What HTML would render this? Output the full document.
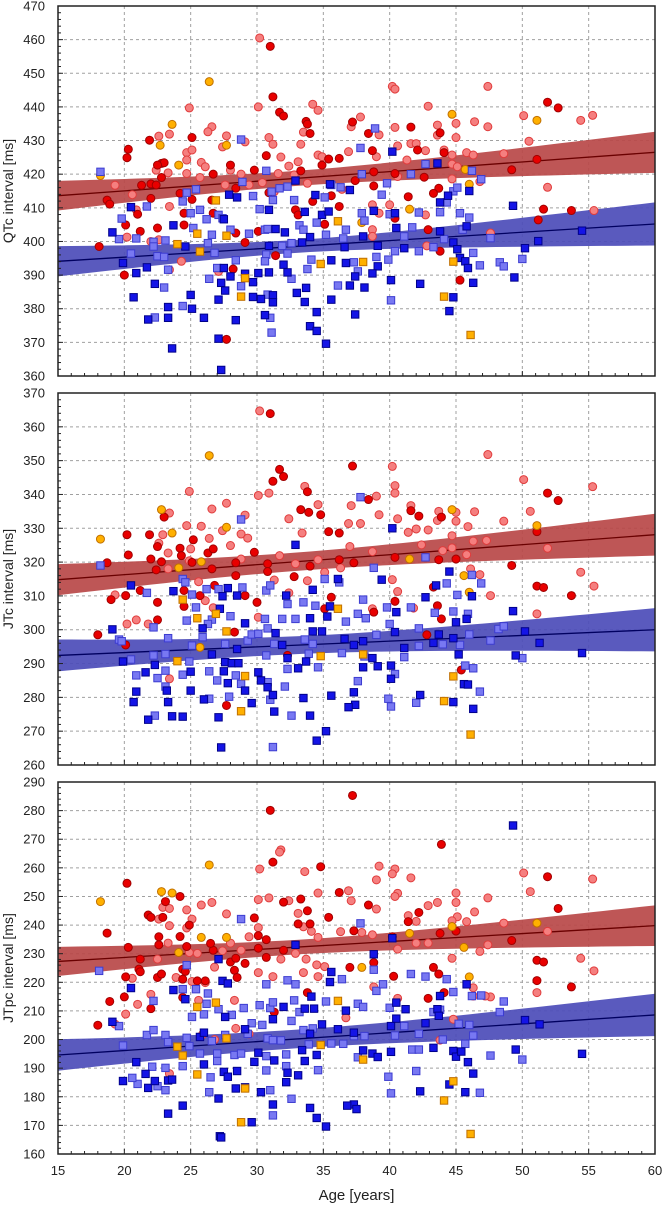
<!DOCTYPE html>
<html><head><meta charset="utf-8"><style>
html,body{margin:0;padding:0;background:#fff;}
svg{display:block;font-family:"Liberation Sans",sans-serif;}
</style></head><body>
<svg id="chart" width="663" height="1207" viewBox="0 0 663 1207" xmlns="http://www.w3.org/2000/svg"></svg>
<script>
// ---------- shared axis data ----------
const xTicks = [15,20,25,30,35,40,45,50,55,60];
const xTitle = "Age [years]";
const panelTitles = ["QTc interval [ms]","JTc interval [ms]","JTpc interval [ms]"];
const panelYMin = [360,260,160];
const panelYMax = [470,370,290];
// regression lines: [y at age 15, y at age 60]
const redFit = [[413.6,426.5],[314.8,328.1],[227.3,239.8]];
const blueFit = [[394.1,405.2],[292.4,300.0],[194.6,208.6]];
// confidence band half-widths: [at age 15, at age 60]
const redBand = [[4.4,6.1],[4.6,6.2],[5.1,7.1]];
const blueBand = [[4.5,6.4],[4.7,6.4],[5.5,7.4]];

// ---------- Panel 1 (QTc) ----------
const qtcPink = [[30.2,460.5],[24.9,439.7],[26.6,434.1],[26.3,432.6],[22.6,431.3],[23.4,431.9],[27.7,431.4],[29.1,429.6],[27.4,428.1],[30.9,430.9],[31.2,428.9],[30.1,440],[34.2,440.8],[34.6,439],[33.5,432.5],[33.3,428.9],[34.6,425.7],[31.8,425.1],[32.4,422.4],[33.1,423.7],[31.6,420.2],[37.8,437],[37.1,434.1],[36.9,426.7],[39,425.2],[39.2,431.7],[40.2,446.1],[40.4,445.3],[40.4,433.9],[40.6,428.4],[41.6,429.1],[42,429.1],[42.9,440.2],[42.7,427],[41.3,424.2],[43.6,434.6],[43.6,431.6],[44.1,427.2],[45,430.9],[45,435.1],[45.8,426.4],[46.3,425.7],[46.4,435.6],[47.4,434.1],[47.4,446.1],[44.7,423],[44.7,418.6],[48.6,426.1],[50.1,437.4],[50.5,429.8],[51.9,416.1],[54.4,436],[55.3,437.5],[55.4,409.2],[19.3,416.7],[20.6,413.9],[20.2,401.3],[20.9,409.4],[22.4,421.2],[23.3,420.4],[22,400],[22.6,400.5],[23.4,410.4],[24.7,426.4],[25.1,427.2],[24.7,424.2],[25.8,423.5],[26.1,422.2],[24.7,420.2],[25.7,419],[27.6,416.8],[28,421.2],[28.8,420],[29.4,416.8],[30.4,417.5],[31.3,414.8],[32.8,419.8],[33.8,417.3],[34.9,425.2],[36.4,415.5],[38.7,410.9],[39.2,408.4],[40,410.9],[40.6,419.3],[42.7,407.9],[44.7,425.7],[45.1,422.2],[46.8,417.8],[47.6,402.5],[38.7,403.5],[38.7,401.5],[24.3,394.1],[23.4,391.6],[27.1,391.1],[42.8,398.7]];
const qtcRed = [[31,458],[31.2,443],[31.7,438.4],[32,437.3],[33.7,435.7],[33.8,434.9],[34,432.1],[21.9,430.1],[20.3,427.4],[20.2,424.9],[25.1,430.9],[22.8,423.2],[23,423.4],[22.5,422.7],[22.8,419],[26.7,420],[28,422.7],[29.8,421.2],[30.7,425.5],[33.3,421],[34.9,422.7],[35.4,424.5],[36.2,424.7],[37.2,435.5],[38.4,432.1],[38.7,427],[38.8,420.7],[40.4,420.2],[41.6,434],[42.1,427.2],[42.6,419.1],[43.8,432.3],[44.1,426.4],[43.7,415.8],[43.3,414.3],[51.1,424.4],[51.9,441.4],[52.7,439.7],[49.2,421.3],[51.6,409.6],[53.7,409.2],[51.2,406.4],[18.1,398.5],[18.7,412.3],[18.9,411.1],[20.1,404.9],[20,390],[21,408.1],[21.2,403],[21.3,416.7],[22,417.1],[22.4,416.8],[22,412.8],[22.5,404],[24.2,414.3],[24.5,408.4],[24.5,404.9],[25.1,412.5],[26.6,412.3],[26.7,408.4],[28.4,415.8],[28.4,402.5],[29.1,399.7],[30.1,403],[30.9,414.5],[32.9,409.4],[33.1,407.9],[34.2,411.9],[35.1,405.1],[35.6,413.6],[36.2,410.4],[37.4,418.1],[38.8,416.5],[40.4,406.9],[41.4,413.3],[42.9,403.5],[43.8,397.1],[45.3,388.5],[27.7,370.9],[28.2,391.8],[31.4,395.8]];
const qtcOrangeCircle = [[26.4,447.5],[23.6,434.8],[22.7,428.6],[24.1,422.7],[27.7,428.6],[44.7,437.8],[51.1,436],[46,417],[45.7,421.4],[41.5,409.6],[18.2,419.6],[37.9,405.6]];
const qtcOrangeSquare = [[26.9,412.2],[24,399.2],[25.7,397],[25.5,402.3],[27.7,401.7],[36.1,406],[34.8,393.3],[38,393.9],[44.8,394],[44.1,383.6],[46.1,372.2],[28.8,383.6],[29.1,389.1]];
const qtcLightBlue = [[18.2,420.7],[19.8,406.8],[19.6,400.7],[20.9,400.9],[20.5,396.4],[21.7,410.4],[22.2,399.9],[22.2,398.5],[22.5,395.6],[23,395.4],[23.3,391.6],[23,386.3],[23.1,400.3],[22.3,377.4],[24.4,380.8],[24.4,411.9],[24.7,414.5],[25.4,415.5],[25,408.4],[25.7,409.4],[26.2,406.6],[25.2,404],[26.3,399.5],[26.6,402],[26.8,396.6],[26.4,388.9],[27.1,407.9],[27.4,406.9],[28,403.5],[27,392.1],[28.4,394.4],[28.8,430.3],[28.9,417.7],[29.4,402.3],[28.8,386.7],[29.7,413.5],[30.7,421],[30.2,409.6],[30.6,403.5],[30.8,403.7],[30.7,396.1],[30.6,394.1],[31.1,414.8],[31.2,412.3],[31.7,415.8],[32.3,416.3],[31.9,398.7],[32.3,396.4],[32.6,399.5],[32.6,388.9],[32.8,412.3],[33.2,404.8],[33.5,403.5],[33.8,391.8],[34.1,394.6],[35.1,413.1],[34.5,405.6],[35.2,402],[35.6,416.8],[36.3,416.1],[36.7,403.5],[36.5,400.9],[36.1,386.9],[37.3,393.8],[37.6,391.1],[37.9,408.4],[38.1,406.2],[37.9,420],[37.8,427.8],[38.9,433.6],[39,395.4],[39.9,394.6],[39.8,417.3],[39.4,413.9],[40,408.1],[40.1,382.5],[40.4,397.1],[41.1,401.5],[41.6,420],[41.7,404.2],[42.2,408.6],[42.2,397.1],[42.7,423],[43.3,398.3],[43.8,408.7],[44.1,400.7],[44.3,411.6],[44.8,414.9],[45.1,416],[45.3,408.4],[45.5,403.5],[46,407.1],[46.3,396.6],[46.8,392.9],[46.2,421],[46.9,418.5],[47.6,401],[48.3,393.8],[48.6,392.6],[50,394.8],[30.8,384.2],[31,377.3],[31.1,372.9]];
const qtcDarkBlue = [[20.5,410.2],[19.1,402.7],[19.9,393.6],[20.9,390.6],[20.7,383.4],[21.7,392.3],[22.3,387.4],[21.8,376.8],[23.3,380.5],[23.3,377.3],[23.6,368.2],[23.7,404.8],[25,384.1],[25.1,380],[26,377.3],[24.6,398.5],[27.1,371.1],[27.3,361.8],[27.1,382.7],[27.3,387.7],[27.6,385.4],[27.5,392.1],[27.5,406.6],[27.9,413.9],[28.5,413.1],[28.4,376.6],[28,389.6],[29.1,390.4],[29.7,387.9],[29.7,383.5],[30.3,382.9],[30.1,390.6],[31.2,384],[31.2,381.9],[30.6,378.1],[30.9,390.8],[31.4,403.7],[30.9,398.7],[30.9,409.4],[32.1,402.7],[32,393.1],[32.3,390.8],[32.9,418.1],[33.6,408.8],[33.4,399.7],[34,401.3],[33.7,386.2],[33,384.7],[33.6,382],[34,374.8],[34.5,373.4],[34.5,379],[35.2,369.6],[35.6,382.7],[35.6,394.4],[34.9,407.9],[35.4,408.9],[35.5,417],[34.4,413.8],[36.6,398.3],[36.7,393.6],[37,386.9],[37.4,389.6],[37.4,378.3],[38.1,386.3],[38,401.5],[38.8,409.1],[39.1,398.7],[39.1,392.6],[38.7,390.5],[40.1,388.5],[40.2,426.7],[40.4,408.4],[40.5,404],[41.1,398],[42.3,387.4],[43.6,423.2],[43.8,411.6],[43.8,403],[44.8,399.7],[45.1,397.7],[45.3,395.1],[45.7,394.1],[45.9,392.1],[46.3,387.7],[45.8,404.5],[46,415],[44.8,383.4],[44.5,379.3],[49.3,410.6],[49.4,389.3],[50.2,398],[51.2,400.1],[54.5,403.2],[44.4,413.6],[37,415.3]];

// ---------- Panel 2 (JTc) ----------
const jtcPink = [[30.2,364.7],[24.9,340.9],[23.4,334.5],[26.6,335.7],[27.7,337.4],[29.1,333.9],[24.7,330.8],[25.8,330.6],[27.4,329.3],[26.4,327],[28.8,328.3],[29.3,327.1],[30.1,339.7],[30.9,340.4],[33.6,342.4],[34.6,337],[32.4,332.8],[33.4,328.6],[37,324.6],[36.9,331.4],[37.8,331.4],[37.1,336.7],[39,339.5],[39.2,334],[40.2,348.3],[40.4,342.6],[40.4,340.4],[40.6,332.8],[41.4,328.8],[41.6,336.7],[42,329.8],[42.9,329.5],[42.4,325.1],[43.7,335],[43.6,332.3],[44.7,327.8],[44.7,324.2],[45,332.1],[45,334.7],[45.9,330.5],[46.4,334.9],[46.3,326.2],[47.3,326.4],[47.4,351.8],[48.6,332.1],[50.1,344.4],[50.6,335],[51.9,324.1],[54.4,317],[55.3,342.3],[55.4,312.9],[47.6,310.1],[51.1,304.7],[38.7,306.2],[19.3,310.3],[20.2,301.7],[20.9,302.9],[21.8,301.7],[22.6,325.6],[22.9,328.1],[23.3,322.7],[23.3,318],[25,323.9],[24.9,320.4],[25.6,314.2],[26.1,308.6],[26.7,306.5],[28,324.9],[28.8,320.9],[30.1,303.7],[31.3,314.7],[31.7,321.9],[32.9,319.5],[33.8,314.5],[34.6,320.7],[35.1,317],[32.4,310.9],[36.3,318.3],[38.7,323.1],[40.2,314.8],[40.6,311.3],[41.8,306.4],[44,323.4],[45.8,322.2],[46.1,318],[46.8,316.3],[23.4,285.5]];
const jtcRed = [[31,363.9],[31.7,347.4],[32,345.3],[31.2,343.9],[37.2,348.4],[33.8,340.8],[33.3,335.5],[33.9,334.7],[34.8,334],[35.4,329],[36.2,328.6],[38.4,338.5],[41.6,335.2],[42.2,333.6],[43.9,333.3],[51.9,340.4],[52.7,338.2],[51.1,329],[49.2,319],[51.1,312.9],[51.6,312.5],[53.7,310.1],[20.2,328.1],[20.3,322.1],[21.9,328.1],[22,320.9],[22.5,324.6],[23,333.3],[22.8,320.1],[22.4,317.7],[24.2,324.1],[24.3,321.9],[25.2,326.6],[25.1,319.9],[26.3,322.7],[26.7,323.9],[26.6,318],[28.4,319.8],[28.4,316],[29.8,322.9],[30.8,319.5],[30.8,317.2],[32.8,315.7],[34,318.8],[35.6,309.6],[36.2,320.7],[37.3,319.8],[40.4,321.4],[43.7,320.7],[45,320.9],[43.3,312.6],[43.6,307.1],[43.9,303.2],[40.4,308.4],[38.8,305.2],[18.7,319.8],[19,308.9],[20.1,310.1],[21.2,311.6],[22.5,308.1],[22.5,302.9],[24.5,306.9],[24.5,311.6],[25.7,310.1],[26.8,313.1],[28.3,299.3],[29.1,310.1],[30,308.1],[32.3,292.4],[35.1,306.2],[18,298.5],[20.1,295.5],[27.7,277.6],[42.8,298.5],[45.4,288.1]];
const jtcOrangeCircle = [[26.4,351.5],[22.8,335.5],[23.6,328.6],[27.7,330.3],[18.2,326.8],[25.8,320.1],[24.1,318.3],[44.7,335.5],[51.1,330.8],[41.5,320.9],[45.6,316],[46,311.1],[25.7,294.8]];
const jtcOrangeSquare = [[24.4,308.9],[25.5,303.4],[26.9,304.7],[27.7,299.5],[36.1,306.2],[24,290.7],[29.1,286.3],[34.8,292.2],[38,292.7],[44.8,286.2],[44.1,278.9],[28.8,275.9],[46.1,269]];
const jtcLightBlue = [[18.2,319],[19.6,297.1],[19.8,296.6],[20.5,291.2],[20.9,286.5],[21.7,310.9],[22.2,300.7],[22.2,292.4],[22.5,285.7],[23.1,287.9],[23.1,283.2],[23.1,292.8],[23.3,297.5],[22.3,274.6],[24.4,315],[24.6,314],[24.7,302.7],[24.4,286.7],[25.1,310.4],[25.4,306.6],[24.9,290.6],[25.1,295.3],[26.2,312],[26.6,303],[26.3,301.7],[25.9,297.8],[26.4,287.7],[26.4,279.6],[27,285],[27.1,312],[28,304],[27.6,295.8],[27.9,280.2],[28.4,286.5],[28.8,332.6],[28.9,312.5],[28.8,284],[29.3,296.8],[29.6,298.6],[30.1,298.8],[30.7,311.6],[31,313.1],[30.6,303.2],[30.8,300.4],[30.7,292.4],[30.8,284.5],[31,279.3],[31.2,265.3],[31.3,295.8],[31.9,303.2],[32.3,307.6],[32.3,288.4],[32.1,283.2],[32.6,274.6],[32.9,303.2],[33.5,308.1],[33.6,297.1],[33.9,292.9],[34.4,307.1],[34.2,295.8],[34.6,288.9],[35.1,315],[36.2,314],[36.7,302.4],[36.4,293.1],[37.6,304.7],[38.2,303.4],[37.6,284.8],[38.1,292.1],[37.8,339.2],[38,308.9],[39,298.5],[38.8,318.3],[39.8,306.6],[40,301.7],[39.9,279.6],[40.1,277.3],[40.4,286.9],[41.1,291.9],[41.6,306.6],[42.2,300.4],[42.2,295.2],[42,278.4],[42.7,321.4],[43.4,305],[44,295.7],[44.3,313.7],[44.8,305.4],[45.1,310.3],[45.3,295.5],[45.7,289.4],[46.3,288.6],[45.9,304.7],[46,298.6],[46.2,316.2],[46.9,313.7],[46.8,281.7],[47.6,296.8],[48.2,300.2],[48.6,301],[50,291.6]];
const jtcDarkBlue = [[20.5,313.1],[19.1,300.1],[19.9,290.6],[20.9,281.7],[20.7,278.6],[21.6,287.4],[21.8,273.4],[22.3,289.6],[23.3,278.6],[23.2,282],[23.6,274.4],[23.7,311.4],[24.4,274.3],[25,282],[25,287.6],[26,279.4],[25.9,300.4],[26.6,292.7],[27.1,274.1],[27.3,265.2],[27.2,306.2],[27.4,309.9],[27.8,312.3],[27.6,290.4],[27.5,287.7],[27.8,284.2],[28.5,310.1],[28.5,294.3],[28.1,290.1],[28.6,290.1],[29.1,282],[29.6,278.3],[29.1,301.9],[30.1,287.4],[30.3,285],[30.8,283],[31.2,280.7],[31.3,275.8],[31.4,299],[32.2,310.1],[31.9,295.5],[32.3,291.6],[32.9,325.1],[33.1,288.6],[33.7,290.6],[33.5,279.8],[34,274.6],[34.5,267.2],[35.2,270],[34,303.4],[34.2,311.8],[34.2,299.5],[34.9,299.5],[35.3,303.9],[35.5,306.9],[35.6,280.5],[36.1,315],[36.6,297.3],[37.3,281.5],[37.4,277.8],[36.9,277.1],[37.3,295.5],[38,288.9],[38,296.6],[38.7,291.6],[39.1,289.2],[39.4,314.8],[40.1,289.4],[40.1,285.5],[40.2,330],[40.5,305.2],[40.4,299.3],[41.1,294.6],[42.3,280.7],[42.7,309.6],[43.3,296.1],[43.5,313.1],[43.7,298.6],[44.5,317.2],[44.8,278.6],[45,302.2],[44.8,297.5],[45.2,292.7],[45.6,283.9],[45.9,283.8],[45.8,303.2],[46.2,309.9],[46.3,276.6],[49.3,305.5],[49.5,292.4],[50.2,299.5],[51.3,296.1],[54.5,293.1]];

// ---------- Panel 3 (JTpc) ----------
const jtpcPink = [[30.2,259.6],[31.8,266.3],[31.7,265.5],[33.6,258.7],[30.9,249.5],[30.1,248.9],[32.4,248.5],[34.6,251.2],[36.9,252],[37.1,248.5],[39.2,260.6],[39,255.8],[40.4,259.6],[40.2,257.9],[41.6,256.5],[40.6,251.1],[40.4,250],[39,245.6],[42.9,246.8],[43.6,247.9],[45,251.2],[45,247.9],[47.4,249.5],[46.4,244.6],[45.8,241.2],[45.1,242.9],[44.7,241.5],[50.1,258.2],[50.6,251.7],[48.6,240.7],[51.9,237.8],[55.3,256.1],[54.4,228.4],[55.4,224],[51.1,216.4],[47.6,214.9],[46.8,230.8],[47.4,233.1],[44.7,228.4],[46.3,218.1],[41.4,243.3],[42,241.3],[42.9,233.7],[42,233.7],[40.6,231.6],[38.7,236.6],[37.9,237.4],[36.3,237.7],[34.6,235.7],[34.1,237.8],[33.5,239.4],[33.1,244.1],[32.9,230.1],[33.7,228.1],[34.5,226.1],[35.1,225.5],[34.6,222],[33.5,223.4],[31.8,228.1],[31.2,222],[30.1,223.4],[30.1,239.1],[29.4,235.9],[28.8,231.2],[28,233.7],[27.7,243.9],[26.6,247.9],[25.8,247],[24.7,245.3],[25.1,242.1],[24.7,239],[23.4,239.8],[22.6,242.1],[22.9,246.2],[23.4,245.8],[23.3,233.7],[22.5,228.1],[23.9,221.7],[24.9,230.4],[25.5,230.1],[26.1,219.9],[25.1,220.3],[26.8,225.3],[27.4,231],[28.3,213.7],[28.4,203.9],[29.4,202],[26.8,200],[20.6,221.4],[21,212.3],[22,215.8],[20.1,208.9],[19.3,205.4],[23.4,188.1],[25.6,213.7],[25.9,201.8],[36.7,207.6],[38.8,218.4],[40.6,214.4],[43.8,199.8],[44.8,207.1],[46.3,215.2],[47.2,215.2]];
const jtpcRed = [[37.2,285.3],[31,280.1],[43.9,268.2],[31.2,262],[34.8,260.4],[20.2,254.6],[24.2,250],[23.1,248.2],[21.8,243.5],[22,242.7],[22.9,242.7],[32,248],[33.3,249.1],[33.8,245],[35.4,242.7],[36.2,251.4],[38.4,247],[42.2,244.4],[51.9,256.9],[52.7,245.8],[49.2,234.6],[45,237.9],[43.8,237.1],[41.4,241.2],[40.2,235.9],[37.3,238],[29.8,242.5],[18.7,237.2],[20.3,232.2],[21.2,228.1],[21.1,224.6],[21.2,223.7],[20.1,221.9],[20,214.9],[18.9,213.3],[22,210.8],[22.6,235.9],[22.6,233.1],[22.5,221.7],[22.8,222.9],[24.2,236],[24.9,240],[24.7,232.5],[24.4,224.6],[24.6,223.8],[24.4,221.1],[25.5,220.5],[26.1,220.5],[26.7,231.2],[26.5,233.6],[28,227.1],[28.4,228.4],[29.1,226.6],[28.3,224.2],[28.5,221.7],[30.1,236.3],[30.7,234.9],[30.7,228.7],[30.1,231.9],[32,231.2],[33.1,240.4],[34,240.4],[33.8,216.4],[37,225.2],[38.8,226.9],[40.3,222.1],[43.3,225.2],[43.7,222.9],[44.1,216.4],[42.9,214.4],[51.1,227.7],[51.6,227.1],[51.1,220.6],[53.7,218.4],[18,205],[24.4,214.7],[31.3,209.6]];
const jtpcOrangeCircle = [[26.4,261],[18.2,248.2],[22.8,251.7],[23.6,251.2],[24.1,230.4],[25.8,235.7],[27.7,235.7],[44.7,239.5],[51.1,240.7],[41.5,237.1],[45.6,232.2],[37.9,225.2],[46,221.9]];
const jtpcOrangeSquare = [[26.9,212.9],[25.5,211.4],[36.1,213.5],[24,197.5],[24.4,194.4],[27.7,200.4],[34.8,198.1],[38,193],[25.5,187.8],[29.1,182.9],[44.8,185.4],[44.1,178.7],[28.8,171.1],[46.1,167]];
const jtpcLightBlue = [[18.1,224],[19.6,204.7],[19.9,197.9],[21.7,201.6],[22.2,203.3],[22.2,213.5],[23.1,201.6],[23.3,199.1],[22.1,190.5],[22.5,183.7],[23.1,182.3],[21,184.5],[20.6,186.6],[23.1,190.1],[24.4,217.6],[24.7,226],[25.4,217.6],[26.3,216.1],[26.2,212.5],[26,208.8],[25.1,207.9],[24.7,200.6],[24.9,197.7],[25.7,195.1],[24.4,190.7],[26.5,186.8],[26.4,181.6],[27,192.5],[27,195.1],[26.6,199.5],[27.6,201.6],[27.1,210.6],[28.1,208.6],[28.8,242.1],[29,211],[28.3,194.6],[28.8,195.1],[29.3,202],[29.6,205.7],[30.2,212],[30.4,205.1],[30.7,219.3],[31,211],[31.2,213],[30.8,200.4],[31.2,199.8],[30.7,194.2],[30.7,189.2],[31,182.3],[31.2,173.5],[32.3,220.7],[32.9,219.3],[32.8,213.7],[33.2,209.6],[32.6,206.5],[31.8,199.7],[32.2,194.8],[32.2,190.7],[32.6,179.3],[33.5,203.3],[33.9,198.3],[34.2,203.9],[35.2,213.3],[34.6,189.3],[35.6,198.6],[36.4,221.1],[36.5,198.5],[37.6,212.5],[38,211.4],[37.3,201.2],[38.1,201.2],[37.6,193.8],[37.8,240.6],[38.8,224.4],[39,217],[39.5,219.3],[40,211.1],[40.4,201.4],[39.9,187],[40.1,181.2],[41.1,204.7],[41.6,222.9],[42,189],[42.2,202],[41.7,196.5],[42.2,196.5],[42.7,222],[43.3,209.6],[43.8,210.4],[44,200],[44.3,221.1],[44.8,216.6],[45.2,205.5],[45.7,198.5],[46,205.1],[46.3,201.4],[46.2,215.2],[46.9,215.4],[47.6,194.4],[46.8,181.4],[48.3,209.6],[48.6,213.3],[50,193]];
const jtpcDarkBlue = [[49.3,274.8],[40.2,235.4],[32.9,233.1],[38.8,229.8],[20.5,218],[19.1,206.2],[20.9,192.1],[19.9,185.5],[21.6,188],[21.8,183.1],[22.3,185.5],[23.3,185.7],[23.6,186],[23.3,174.1],[24.4,176.9],[23.7,217.3],[24.6,214.1],[25.7,200.9],[26,202.4],[26,191.3],[27.1,228.1],[27.4,220.5],[27.8,219.6],[27.6,207.9],[27.5,188.7],[27.8,187],[28.5,189],[28.4,182.9],[29.1,183.3],[27.1,179.4],[27.2,166.2],[27.3,165.8],[29.6,171.1],[30.3,181.6],[30.1,195.4],[29.8,192.2],[29.1,203.6],[31.2,177.3],[31.3,192.7],[31.2,207.1],[32,211.4],[32.3,188.4],[32.2,185.1],[33.1,187.5],[33.4,196.3],[33.6,192.5],[33.6,210.8],[34.1,215],[34.3,210.8],[34,202],[34.9,205.3],[34.5,194.6],[35.6,223.6],[35.5,220.1],[36.1,203.6],[36.7,210.1],[37.3,202.4],[37.3,177.3],[36.8,176.9],[37.5,175.7],[34,176.1],[34.5,172.6],[35.2,169.6],[38,196.2],[38.7,195.1],[39.1,193.9],[40.1,195.7],[40.5,207.3],[40.1,204.7],[40.5,212.9],[41.2,210.6],[42.3,181.9],[42.7,205.7],[43.3,197.1],[43.6,210.6],[43.7,208.3],[43.8,215.2],[44.5,184.3],[44.8,196],[45,194],[45.4,195.8],[45.8,219.3],[45.9,192.1],[46.3,188.1],[45.7,181.6],[50.2,206.8],[51.3,205.3],[49.5,196.5],[54.5,195]];

const panelSeries = [
  {pink:qtcPink, red:qtcRed, oc:qtcOrangeCircle, os:qtcOrangeSquare, lb:qtcLightBlue, db:qtcDarkBlue},
  {pink:jtcPink, red:jtcRed, oc:jtcOrangeCircle, os:jtcOrangeSquare, lb:jtcLightBlue, db:jtcDarkBlue},
  {pink:jtpcPink, red:jtpcRed, oc:jtpcOrangeCircle, os:jtpcOrangeSquare, lb:jtpcLightBlue, db:jtpcDarkBlue}
];

// ---------- drawing ----------
const NS = "http://www.w3.org/2000/svg";
const svg = document.getElementById('chart');
const L = 58, R = 655;
const panelTop = [6, 393, 782];
const panelBot = [376, 765, 1154];
const xMin = 15, xMax = 60;
function sx(v){ return L + (v - xMin) / (xMax - xMin) * (R - L); }
function mk(tag, attrs, parent){
  const e = document.createElementNS(NS, tag);
  for (const k in attrs) e.setAttribute(k, attrs[k]);
  (parent || svg).appendChild(e);
  return e;
}

const panelNames = ['qtc','jtc','jtpc'];
for (let p = 0; p < 3; p++){
  const T = panelTop[p], B = panelBot[p], y0 = panelYMin[p], y1 = panelYMax[p];
  const sy = v => B - (v - y0) / (y1 - y0) * (B - T);
  const g = mk('g', {});
  
  

  const grid = mk('g', {stroke:'#a0a0a0','stroke-width':'1','stroke-dasharray':'3,3'}, g);
  
  
  for (const t of xTicks){ if (t===xMin||t===xMax) continue; mk('line',{x1:sx(t),x2:sx(t),y1:T,y2:B},grid); }
  for (let v = y0 + 10; v < y1; v += 10){ mk('line',{x1:L,x2:R,y1:sy(v),y2:sy(v)},grid); }

  const bands = [[redFit[p], redBand[p], '#b84848', '#6a0000', 'red-fit'], [blueFit[p], blueBand[p], '#4c4cb8', '#000060', 'blue-fit']];
  for (const [fit, bw, fill, lc, nm] of bands){
    const fy = x => fit[0] + (fit[1]-fit[0]) * (x - xMin) / (xMax - xMin);
    const d0 = 33 - xMin, d1 = xMax - 33;
    const b = (bw[1]*bw[1] - bw[0]*bw[0]) / (d1*d1 - d0*d0);
    const a = Math.max(0.5, bw[0]*bw[0] - b*d0*d0);
    const hw = x => Math.sqrt(a + b*(x-33)*(x-33));
    let up = [], lo = [];
    for (let x = xMin; x <= xMax + 0.001; x += 1){ up.push(sx(x)+','+sy(fy(x)+hw(x))); lo.unshift(sx(x)+','+sy(fy(x)-hw(x))); }
    const poly = mk('polygon',{points:up.concat(lo).join(' '),fill:fill,'fill-opacity':'0.92'},g);
    
    
    const ln = mk('line',{x1:sx(xMin),y1:sy(fy(xMin)),x2:sx(xMax),y2:sy(fy(xMax)),stroke:lc,'stroke-width':'1.3'},g);
    
    
  }

  const S = panelSeries[p];
  const defs = [
    ['pink','circle','#f57f7f','#e03c3c','light-red-point'],
    ['red','circle','#e80000','#a00000','dark-red-point'],
    ['oc','circle','#ffb000','#c07000','orange-circle-point'],
    ['lb','square','#7878f2','#3c3cd0','light-blue-point'],
    ['db','square','#1414e6','#00008a','dark-blue-point'],
    ['os','square','#ffb000','#c07000','orange-square-point']
  ];
  for (const [key, shape, fill, stroke, nm] of defs){
    const sg = mk('g', {}, g);
    
    
    for (const [x, y] of S[key]){
      let e;
      if (shape === 'circle') e = mk('circle',{cx:sx(x),cy:sy(y),r:4.0,fill:fill,stroke:stroke,'stroke-width':'1'},sg);
      else e = mk('rect',{x:sx(x)-3.7,y:sy(y)-3.7,width:7.4,height:7.4,fill:fill,stroke:stroke,'stroke-width':'1'},sg);
      
      
    }
  }

  const fr = mk('rect',{x:L,y:T,width:R-L,height:B-T,fill:'none',stroke:'#222','stroke-width':'1.5'},g);
  
  

  const ya = mk('g', {}, g);
  
  
  for (let v = y0; v <= y1; v += 2){
    const major = (v % 10 === 0);
    mk('line',{x1:L,x2:L+(major?5:3),y1:sy(v),y2:sy(v),stroke:'#222','stroke-width':'1'},ya);
  }
  for (let v = y0; v <= y1; v += 10){
    const t = mk('text',{x:L-13,y:sy(v)+4.5,'text-anchor':'end','font-size':'13',fill:'#222'},ya);
    t.textContent = v;
    
    
  }
  const yt = mk('text',{x:0,y:0,'text-anchor':'middle','font-size':'14',fill:'#222',transform:'translate(13,'+((T+B)/2)+') rotate(-90)'},ya);
  yt.textContent = panelTitles[p];
  
  

  const xa = mk('g', {}, g);
  
  
  for (let v = xMin; v <= xMax; v += 1){
    const major = (v % 5 === 0);
    mk('line',{x1:sx(v),x2:sx(v),y1:B,y2:B-(major?5:3),stroke:'#222','stroke-width':'1'},xa);
  }
}

const xl = mk('g', {});


for (const t of xTicks){
  const e = mk('text',{x:sx(t),y:1175,'text-anchor':'middle','font-size':'13',fill:'#222'},xl);
  e.textContent = t;
  
  
}
const xt = mk('text',{x:(L+R)/2,y:1200,'text-anchor':'middle','font-size':'15',fill:'#222'},xl);
xt.textContent = xTitle;


</script>
</body></html>
